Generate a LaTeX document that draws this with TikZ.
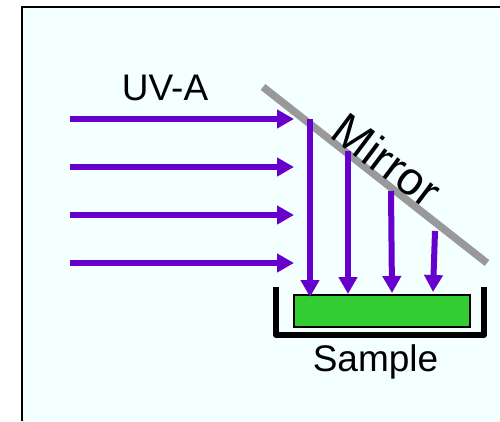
\documentclass[tikz,border=0pt]{standalone}
\usepackage{fontspec}
\setmainfont{Liberation Sans}
\usetikzlibrary{arrows.meta}
\definecolor{bgc}{RGB}{244,255,255}
\definecolor{ray}{RGB}{102,0,204}
\definecolor{mir}{RGB}{153,153,153}
\definecolor{samp}{RGB}{51,204,51}
\tikzset{x=1pt,y=-1pt,
 rayline/.style={draw=ray,line width=6pt,-{Triangle[length=17pt,width=18pt]}},
 lbl/.style={inner sep=0pt,font=\fontsize{37}{37}\selectfont,text=black}}
\begin{document}
\begin{tikzpicture}
\useasboundingbox (0,0) rectangle (500,421);
\fill[white] (0,0) rectangle (500,421);
\fill[bgc] (22,7) rectangle (500,421);
\draw[black,line width=2.5pt] (22,421) -- (22,7) -- (500,7);
\coordinate (a1s) at (70,119); \coordinate (a1e) at (294,119);
\coordinate (a2s) at (70,167); \coordinate (a2e) at (294,167);
\coordinate (a3s) at (70,215); \coordinate (a3e) at (294,215);
\coordinate (a4s) at (70,263); \coordinate (a4e) at (294,263);
\draw[rayline] (a1s) -- (a1e);
\draw[rayline] (a2s) -- (a2e);
\draw[rayline] (a3s) -- (a3e);
\draw[rayline] (a4s) -- (a4e);
\coordinate (m1) at (263,87); \coordinate (m2) at (487,263);
\draw[mir,line width=7.5pt] (m1) -- (m2);
\coordinate (d1s) at (310,119); \coordinate (d1e) at (310,297);
\coordinate (d2s) at (348,151); \coordinate (d2e) at (348,294);
\coordinate (d3s) at (391,191); \coordinate (d3e) at (392,293);
\coordinate (d4s) at (435,231); \coordinate (d4e) at (433,292);
\node[draw=black,fill=samp,line width=2pt,minimum width=176pt,minimum height=32pt,inner sep=0pt] (sample) at (382,311) {};
\draw[rayline] (d1s) -- (d1e);
\draw[rayline] (d2s) -- (d2e);
\draw[rayline] (d3s) -- (d3e);
\draw[rayline] (d4s) -- (d4e);
\draw[black,line width=6pt,line join=round] (276,287) -- (276,335) -- (484,335) -- (484,287);
\node[lbl] (uva) at (165,88) {UV-A};
\node[lbl] (samplelabel) at (375.5,362) {Sample};
\node[lbl,rotate=-37,font=\fontsize{46.5}{46.5}\selectfont] (mirror) at (387,160) {Mirror};
\end{tikzpicture}
\end{document}
